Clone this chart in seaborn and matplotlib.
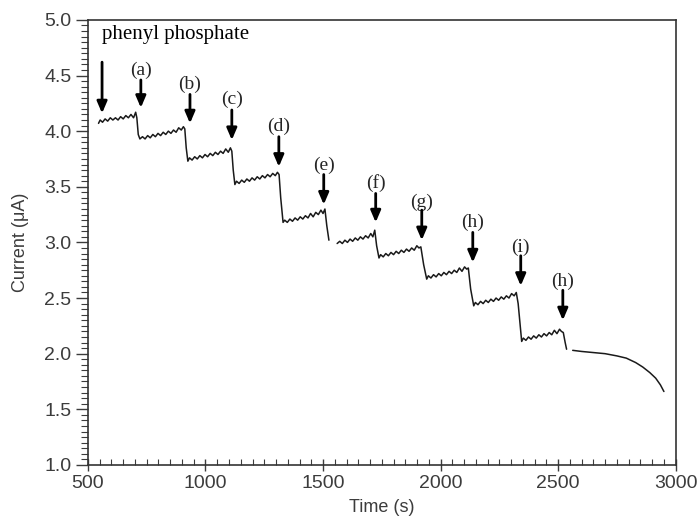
import pandas as pd
import seaborn as sns
import matplotlib.pyplot as plt
import numpy as np
from matplotlib.ticker import MultipleLocator

# Datos: cada escalon (tiempo en s, corriente en uA)
t0 = [545, 552, 562, 573, 584, 595, 606, 617, 628, 639, 650, 661, 672, 683, 694, 703, 708, 714, 721]
i0 = [4.07, 4.10, 4.08, 4.11, 4.09, 4.12, 4.10, 4.12, 4.10, 4.13, 4.11, 4.14, 4.12, 4.15, 4.12, 4.17, 4.12, 3.97, 3.93]
t1 = [732, 743, 754, 765, 776, 787, 798, 809, 820, 831, 842, 853, 864, 875, 886, 897, 906, 912, 918, 925]
i1 = [3.95, 3.93, 3.96, 3.94, 3.97, 3.95, 3.98, 3.96, 3.99, 3.97, 4.00, 3.98, 4.01, 3.99, 4.03, 4.01, 4.04, 4.02, 3.85, 3.73]
t2 = [932, 943, 954, 965, 976, 987, 998, 1009, 1020, 1031, 1042, 1053, 1064, 1075, 1086, 1097, 1106, 1112, 1118, 1125]
i2 = [3.76, 3.74, 3.77, 3.75, 3.78, 3.76, 3.79, 3.77, 3.80, 3.78, 3.81, 3.79, 3.82, 3.80, 3.84, 3.81, 3.85, 3.82, 3.65, 3.52]
t3 = [1132, 1143, 1154, 1165, 1176, 1187, 1198, 1209, 1220, 1231, 1242, 1253, 1264, 1275, 1286, 1297, 1306, 1313, 1320, 1330]
i3 = [3.55, 3.53, 3.56, 3.54, 3.57, 3.55, 3.58, 3.56, 3.59, 3.57, 3.60, 3.58, 3.61, 3.59, 3.62, 3.60, 3.63, 3.61, 3.40, 3.18]
t4 = [1337, 1348, 1359, 1370, 1381, 1392, 1403, 1414, 1425, 1436, 1447, 1458, 1469, 1480, 1491, 1500, 1508, 1516, 1525]
i4 = [3.20, 3.18, 3.21, 3.19, 3.22, 3.20, 3.23, 3.21, 3.24, 3.22, 3.26, 3.23, 3.27, 3.25, 3.29, 3.26, 3.30, 3.15, 3.02]
t5 = [1560, 1571, 1582, 1593, 1604, 1615, 1626, 1637, 1648, 1659, 1670, 1681, 1692, 1703, 1712, 1720, 1728, 1738]
i5 = [2.99, 3.01, 2.99, 3.02, 3.00, 3.03, 3.01, 3.04, 3.02, 3.05, 3.03, 3.06, 3.04, 3.08, 3.05, 3.11, 2.97, 2.86]
t6 = [1745, 1756, 1767, 1778, 1789, 1800, 1811, 1822, 1833, 1844, 1855, 1866, 1877, 1888, 1899, 1908, 1916, 1928, 1941]
i6 = [2.89, 2.87, 2.90, 2.88, 2.91, 2.89, 2.92, 2.90, 2.93, 2.91, 2.94, 2.92, 2.95, 2.93, 2.97, 2.95, 2.96, 2.80, 2.67]
t7 = [1948, 1959, 1970, 1981, 1992, 2003, 2014, 2025, 2036, 2047, 2058, 2069, 2080, 2091, 2102, 2111, 2118, 2128, 2141]
i7 = [2.70, 2.68, 2.71, 2.69, 2.72, 2.70, 2.73, 2.71, 2.74, 2.72, 2.75, 2.73, 2.77, 2.74, 2.78, 2.76, 2.77, 2.58, 2.43]
t8 = [2148, 2159, 2170, 2181, 2192, 2203, 2214, 2225, 2236, 2247, 2258, 2269, 2280, 2291, 2302, 2313, 2322, 2330, 2345]
i8 = [2.46, 2.44, 2.47, 2.45, 2.48, 2.46, 2.49, 2.47, 2.50, 2.48, 2.51, 2.49, 2.52, 2.50, 2.54, 2.52, 2.55, 2.45, 2.11]
t9 = [2352, 2363, 2374, 2385, 2396, 2407, 2418, 2429, 2440, 2451, 2462, 2473, 2484, 2495, 2506, 2514, 2522, 2530, 2536]
i9 = [2.14, 2.12, 2.15, 2.13, 2.16, 2.14, 2.17, 2.15, 2.18, 2.16, 2.19, 2.17, 2.21, 2.18, 2.22, 2.20, 2.19, 2.10, 2.04]
t10 = [2562, 2600, 2650, 2700, 2750, 2790, 2830, 2860, 2890, 2915, 2935, 2950]
i10 = [2.03, 2.02, 2.01, 2.00, 1.98, 1.96, 1.92, 1.88, 1.83, 1.78, 1.72, 1.66]

# Flechas: etiqueta, tiempo, y de la etiqueta, y inicio y fin de la flecha
etiquetas = ['(a)', '(b)', '(c)', '(d)', '(e)', '(f)', '(g)', '(h)', '(i)', '(h)']
t_flecha = [725, 934, 1112, 1312, 1503, 1724, 1920, 2137, 2341, 2520]
y_etiqueta = [4.55, 4.42, 4.29, 4.04, 3.69, 3.53, 3.36, 3.18, 2.96, 2.65]
y_inicio = [4.46, 4.33, 4.19, 3.95, 3.61, 3.44, 3.29, 3.09, 2.88, 2.57]
y_fin = [4.21, 4.07, 3.92, 3.68, 3.34, 3.18, 3.02, 2.82, 2.61, 2.30]

# Armar el dataframe con tramos separados (huecos en la curva)
tramos = [(t0 + t1 + t2 + t3 + t4, i0 + i1 + i2 + i3 + i4),
          (t5 + t6 + t7 + t8 + t9, i5 + i6 + i7 + i8 + i9),
          (t10, i10)]
partes = []
for k, (tt, ii) in enumerate(tramos):
    partes.append(pd.DataFrame({'time': tt, 'current': ii, 'tramo': k}))
df = pd.concat(partes, ignore_index=True)

sns.set_style('white')
plt.rcParams['font.family'] = ['Liberation Sans', 'DejaVu Sans']

fig, ax = plt.subplots(figsize=(6.98, 5.23), dpi=100)
fig.subplots_adjust(left=0.126, right=0.968, top=0.962, bottom=0.111)

sns.lineplot(data=df, x='time', y='current', units='tramo', estimator=None,
             sort=False, color='#1a1a1a', lw=1.1, ax=ax)

# Flechas y etiquetas
serif = ['Liberation Serif', 'DejaVu Serif']
flecha = dict(arrowstyle='-|>,head_length=0.7,head_width=0.3',
              mutation_scale=10, lw=2, color='black', shrinkA=0, shrinkB=0)
ax.text(558, 4.87, 'phenyl phosphate', family=serif, fontsize=15,
        ha='left', va='center', color='black')
ax.annotate('', xy=(560, 4.16), xytext=(560, 4.62), arrowprops=flecha)
for lab, tx, ye, y0, y1 in zip(etiquetas, t_flecha, y_etiqueta, y_inicio, y_fin):
    ax.text(tx, ye, lab, family=serif, fontsize=14, ha='center', va='center')
    ax.annotate('', xy=(tx, y1), xytext=(tx, y0), arrowprops=flecha)

ax.set_xlim(500, 3000)
ax.set_ylim(1.0, 5.0)
ax.xaxis.set_major_locator(MultipleLocator(500))
ax.xaxis.set_minor_locator(MultipleLocator(50))
ax.yaxis.set_major_locator(MultipleLocator(0.5))
ax.yaxis.set_minor_locator(MultipleLocator(0.05))
ax.yaxis.set_major_formatter(plt.FormatStrFormatter('%.1f'))

gris = '#3c3c3c'
ax.tick_params(axis='x', which='major', direction='inout', length=8, width=1,
               color=gris, labelsize=14, labelcolor=gris, pad=3,
               bottom=True, top=False)
ax.tick_params(axis='x', which='minor', direction='in', length=4, width=0.8,
               color=gris, bottom=True, top=False)
ax.tick_params(axis='y', which='major', direction='out', length=9, width=1,
               color=gris, labelsize=14, labelcolor=gris, pad=3,
               left=True, right=False)
ax.tick_params(axis='y', which='minor', direction='out', length=5, width=0.8,
               color=gris, left=True, right=False)
for s in ax.spines.values():
    s.set_visible(True)
    s.set_color('#333333')
    s.set_linewidth(1.2)

ax.set_xlabel('Time (s)', fontsize=13, color=gris, labelpad=5)
ax.set_ylabel('Current (\u03bcA)', fontsize=13, color=gris, labelpad=11)

fig.savefig('out.png', dpi=100)
